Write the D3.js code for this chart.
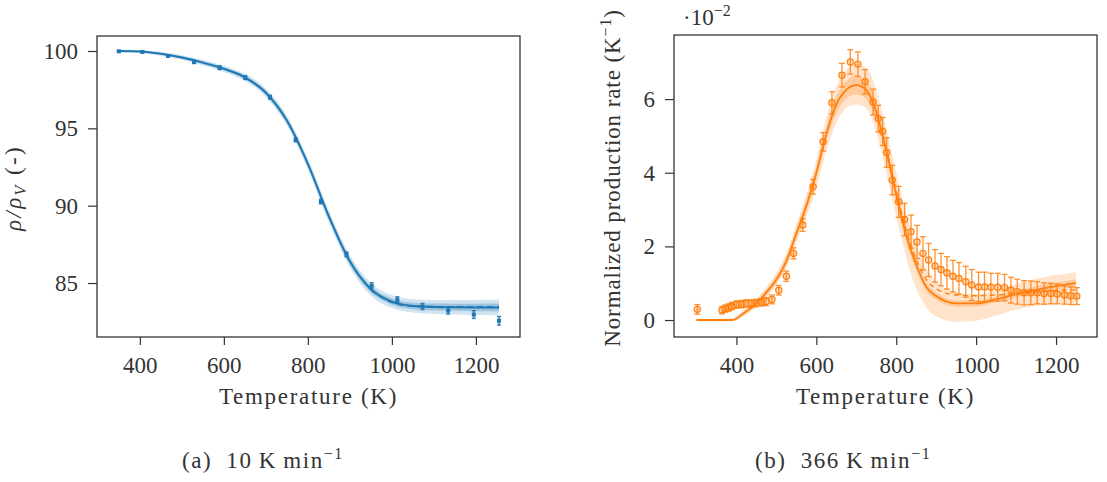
<!DOCTYPE html>
<html>
<head>
<meta charset="utf-8">
<script src="https://cdn.jsdelivr.net/npm/d3@7"></script>
<style>
  body { margin: 0; background: #fff; }
</style>
</head>
<body>
<script>
// ---- panel (a): density ratio at 10 K/min ----
const tempA = [350, 406, 467, 529, 590, 651, 710, 771, 831, 892, 952, 1013, 1073, 1134, 1195, 1255];
const rhoA  = [99.98, 99.94, 99.68, 99.29, 98.92, 98.28, 97.01, 94.25, 90.27, 86.85, 84.82, 83.91, 83.48, 83.22, 82.96, 82.56];
const errA  = [0.05, 0.05, 0.08, 0.1, 0.12, 0.12, 0.12, 0.12, 0.15, 0.15, 0.2, 0.2, 0.2, 0.22, 0.25, 0.28];

const fitTempA   = [350, 400, 450, 500, 550, 600, 650, 700, 750, 800, 850, 900, 950, 1000, 1050, 1100, 1150, 1200, 1255];
const fitRhoA    = [100.0, 99.97, 99.82, 99.58, 99.25, 98.85, 98.3, 97.3, 95.5, 92.7, 89.3, 86.4, 84.6, 83.8, 83.52, 83.45, 83.43, 83.42, 83.42];
const bandOuterA = [0.08, 0.1, 0.12, 0.15, 0.18, 0.2, 0.24, 0.28, 0.32, 0.36, 0.38, 0.4, 0.42, 0.42, 0.43, 0.45, 0.47, 0.49, 0.5];
const bandInnerA = [0.04, 0.05, 0.06, 0.08, 0.09, 0.1, 0.12, 0.14, 0.16, 0.18, 0.19, 0.2, 0.2, 0.2, 0.21, 0.22, 0.23, 0.24, 0.25];
const dashTempA  = [950, 1000, 1050, 1100, 1150, 1200, 1255];
const dashRhoA   = [84.55, 83.75, 83.5, 83.47, 83.46, 83.46, 83.46];

// ---- panel (b): production rate at 366 K/min (x 10^-2) ----
const tempB = [302, 364, 372, 381, 389, 400, 412, 424, 437, 449, 462, 474, 489, 506, 525, 543, 566, 592,
               617, 639, 664, 685, 704, 722, 742, 755, 766, 776, 790, 806, 821, 837, 852, 867, 881, 897,
               912, 927, 942, 957, 974, 989, 1006, 1021, 1037, 1054, 1071, 1087, 1103, 1120, 1137, 1153,
               1170, 1187, 1203, 1221, 1237, 1252];
const rateB = [0.29, 0.27, 0.31, 0.34, 0.38, 0.42, 0.43, 0.45, 0.45, 0.46, 0.48, 0.5, 0.56, 0.81, 1.19, 1.81, 2.58, 3.62,
               4.84, 5.9, 6.65, 7.01, 6.95, 6.47, 5.92, 5.47, 5.12, 4.55, 3.8, 3.21, 2.73, 2.4, 2.12, 1.81, 1.63, 1.47,
               1.37, 1.28, 1.19, 1.13, 1.04, 0.95, 0.9, 0.9, 0.89, 0.89, 0.88, 0.81, 0.77, 0.74, 0.74, 0.74,
               0.72, 0.72, 0.71, 0.68, 0.66, 0.65];
const errB  = [0.13, 0.1, 0.1, 0.1, 0.1, 0.1, 0.1, 0.1, 0.1, 0.1, 0.1, 0.11, 0.12, 0.13, 0.14, 0.15, 0.17, 0.2,
               0.25, 0.3, 0.32, 0.33, 0.33, 0.33, 0.35, 0.36, 0.38, 0.4, 0.4, 0.42, 0.44, 0.45, 0.45, 0.45, 0.45, 0.44,
               0.44, 0.44, 0.43, 0.43, 0.42, 0.42, 0.4, 0.4, 0.38, 0.38, 0.36, 0.35, 0.34, 0.33, 0.32, 0.3,
               0.29, 0.28, 0.27, 0.25, 0.24, 0.23];

const fitTempB   = [300, 350, 390, 420, 450, 475, 500, 525, 550, 575, 600, 625, 650, 675, 700, 725, 750, 775, 800,
                    825, 850, 875, 900, 950, 1000, 1050, 1100, 1150, 1200, 1250];
const fitRateB   = [0, 0, 0, 0.2, 0.45, 0.75, 1.1, 1.6, 2.35, 3.1, 4.0, 5.05, 5.85, 6.25, 6.38, 6.25, 5.65, 4.6, 3.4,
                    2.3, 1.5, 0.9, 0.65, 0.45, 0.45, 0.56, 0.7, 0.82, 0.92, 1.0];
const bandLoB    = [-0.03, -0.03, -0.03, 0.12, 0.35, 0.62, 0.95, 1.42, 2.1, 2.8, 3.6, 4.6, 5.35, 5.75, 5.85, 5.75, 5.1, 4.0, 2.8,
                    1.7, 0.85, 0.35, 0.1, -0.05, -0.02, 0.12, 0.28, 0.38, 0.42, 0.45];
const bandHiB    = [0.03, 0.03, 0.05, 0.3, 0.58, 0.9, 1.28, 1.82, 2.6, 3.4, 4.35, 5.5, 6.35, 6.8, 6.95, 6.85, 6.25, 5.2, 4.0,
                    2.9, 2.05, 1.4, 1.05, 0.75, 0.7, 0.8, 0.98, 1.12, 1.22, 1.3];
const bandInnerB = [0.01, 0.01, 0.02, 0.05, 0.07, 0.08, 0.1, 0.12, 0.14, 0.16, 0.18, 0.2, 0.22, 0.24, 0.25, 0.25, 0.24, 0.22, 0.2,
                    0.18, 0.15, 0.12, 0.1, 0.08, 0.08, 0.08, 0.09, 0.1, 0.1, 0.1];
const dashTempB  = [780, 800, 825, 850, 875, 900, 950, 1000, 1050, 1100, 1150, 1200, 1250];
const dashRateB  = [4.45, 3.5, 2.45, 1.65, 1.1, 0.85, 0.68, 0.66, 0.68, 0.72, 0.76, 0.8, 0.82];

const xTicks  = [400, 600, 800, 1000, 1200];
const yTicksA = [85, 90, 95, 100];
const yTicksB = [0, 2, 4, 6];

const blue = "#1f77b4", orange = "#ff7f0e", ink = "#333";
const FS = 23;
const FONT = "'Liberation Serif', 'Times New Roman', 'DejaVu Serif', serif";

const svg = d3.select("body").append("svg")
  .attr("width", 1107).attr("height", 482)
  .attr("font-family", FONT);

function label(sel) {
  return sel.append("text").attr("font-family", FONT).attr("font-size", FS).attr("fill", ink);
}

function panel(box, xDom, yDom, yTicks) {
  const x = d3.scaleLinear().domain(xDom).range([box.left, box.right]);
  const y = d3.scaleLinear().domain(yDom).range([box.bottom, box.top]);
  const g = svg.append("g");

  const xa = g.append("g")
    .attr("transform", `translate(0,${box.bottom})`)
    .call(d3.axisBottom(x).tickValues(xTicks).tickFormat(d3.format("d")).tickSize(8).tickSizeOuter(0));
  const ya = g.append("g")
    .attr("transform", `translate(${box.left},0)`)
    .call(d3.axisLeft(y).tickValues(yTicks).tickFormat(d3.format("d")).tickSize(9).tickSizeOuter(0).tickPadding(10));

  [xa, ya].forEach(a => {
    a.select(".domain").remove();
    a.attr("font-family", FONT).attr("font-size", FS);
    a.selectAll("line").attr("stroke", ink).attr("stroke-width", 1.2);
    a.selectAll("text").attr("fill", ink).attr("font-family", FONT);
  });
  xa.selectAll("text").attr("y", 36).attr("dy", null);

  const plot = g.append("g");
  g.append("rect")
    .attr("x", box.left).attr("y", box.top)
    .attr("width", box.right - box.left).attr("height", box.bottom - box.top)
    .attr("fill", "none").attr("stroke", ink).attr("stroke-width", 1.3);

  label(g)
    .attr("x", (box.left + box.right) / 2).attr("y", 404)
    .attr("text-anchor", "middle")
    .style("letter-spacing", "1.7px")
    .text("Temperature (K)");

  return { x, y, plot };
}

function errorBars(p, temps, vals, errs, color, cap, width, opacity) {
  const eb = p.plot.append("g").attr("stroke", color).attr("stroke-width", width).attr("stroke-opacity", opacity);
  temps.forEach((t, i) => {
    const cx = p.x(t), lo = p.y(vals[i] - errs[i]), hi = p.y(vals[i] + errs[i]);
    eb.append("line").attr("x1", cx).attr("x2", cx).attr("y1", lo).attr("y2", hi);
    eb.append("line").attr("x1", cx - cap).attr("x2", cx + cap).attr("y1", lo).attr("y2", lo);
    eb.append("line").attr("x1", cx - cap).attr("x2", cx + cap).attr("y1", hi).attr("y2", hi);
  });
}

// ---------- panel (a) ----------
const pa = panel({ left: 97, right: 520, top: 36, bottom: 337 }, [298, 1305], [81.51, 100.97], yTicksA);

const lineA = d3.line().x(d => pa.x(d[0])).y(d => pa.y(d[1])).curve(d3.curveMonotoneX);
const bandA = (hw) => d3.area()
  .x((d, i) => pa.x(fitTempA[i]))
  .y0((d, i) => pa.y(fitRhoA[i] - hw[i]))
  .y1((d, i) => pa.y(fitRhoA[i] + hw[i]))
  .curve(d3.curveMonotoneX);

pa.plot.append("path").datum(fitTempA).attr("d", bandA(bandOuterA)).attr("fill", blue).attr("fill-opacity", 0.2);
pa.plot.append("path").datum(fitTempA).attr("d", bandA(bandInnerA)).attr("fill", blue).attr("fill-opacity", 0.3);
pa.plot.append("path").datum(d3.zip(fitTempA, fitRhoA)).attr("d", lineA)
  .attr("fill", "none").attr("stroke", blue).attr("stroke-width", 2);
pa.plot.append("path").datum(d3.zip(dashTempA, dashRhoA)).attr("d", lineA)
  .attr("fill", "none").attr("stroke", blue).attr("stroke-width", 1.6).attr("stroke-dasharray", "6,4");
errorBars(pa, tempA, rhoA, errA, blue, 2, 1.4, 0.9);
pa.plot.append("g").selectAll("rect").data(d3.zip(tempA, rhoA)).join("rect")
  .attr("x", d => pa.x(d[0]) - 2).attr("y", d => pa.y(d[1]) - 2)
  .attr("width", 4).attr("height", 4).attr("fill", blue);

label(svg)
  .attr("transform", "translate(21,188) rotate(-90)")
  .attr("text-anchor", "middle")
  .style("letter-spacing", "2.4px")
  .call(t => {
    t.append("tspan").attr("font-style", "italic").text("ρ/ρ");
    t.append("tspan").attr("font-style", "italic").attr("font-size", 16).attr("dy", 5).text("V");
    t.append("tspan").attr("dy", -5).text(" (-)");
  });

// ---------- panel (b) ----------
const pb = panel({ left: 674, right: 1097, top: 35, bottom: 337 }, [243.75, 1302.5], [-0.461, 7.74], yTicksB);

const lineB = d3.line().x(d => pb.x(d[0])).y(d => pb.y(d[1])).curve(d3.curveMonotoneX);
pb.plot.append("path").datum(fitTempB)
  .attr("d", d3.area()
    .x((d, i) => pb.x(fitTempB[i]))
    .y0((d, i) => pb.y(bandLoB[i]))
    .y1((d, i) => pb.y(bandHiB[i]))
    .curve(d3.curveMonotoneX))
  .attr("fill", orange).attr("fill-opacity", 0.22);
pb.plot.append("path").datum(fitTempB)
  .attr("d", d3.area()
    .x((d, i) => pb.x(fitTempB[i]))
    .y0((d, i) => pb.y(fitRateB[i] - bandInnerB[i]))
    .y1((d, i) => pb.y(fitRateB[i] + bandInnerB[i]))
    .curve(d3.curveMonotoneX))
  .attr("fill", orange).attr("fill-opacity", 0.25);
pb.plot.append("path").datum(d3.zip(fitTempB, fitRateB)).attr("d", lineB)
  .attr("fill", "none").attr("stroke", orange).attr("stroke-width", 1.8);
pb.plot.append("path").datum(d3.zip(dashTempB, dashRateB)).attr("d", lineB)
  .attr("fill", "none").attr("stroke", orange).attr("stroke-width", 1.4).attr("stroke-dasharray", "5,4");
errorBars(pb, tempB, rateB, errB, orange, 3, 1.3, 0.85);
pb.plot.append("g").selectAll("circle").data(d3.zip(tempB, rateB)).join("circle")
  .attr("cx", d => pb.x(d[0])).attr("cy", d => pb.y(d[1])).attr("r", 3.1)
  .attr("fill", orange).attr("fill-opacity", 0.3)
  .attr("stroke", orange).attr("stroke-width", 1.2);

label(svg)
  .attr("transform", "translate(620,178) rotate(-90)")
  .attr("text-anchor", "middle")
  .style("letter-spacing", "0.9px")
  .call(t => {
    t.append("tspan").text("Normalized production rate (K");
    t.append("tspan").attr("font-size", 16).attr("dy", -9).text("−1");
    t.append("tspan").attr("dy", 9).text(")");
  });

label(svg).attr("x", 683).attr("y", 25)
  .call(t => {
    t.append("tspan").text("·10");
    t.append("tspan").attr("font-size", 16).attr("dy", -9).text("−2");
  });

// ---------- captions ----------
function caption(x, tag, rate) {
  const t = label(svg).attr("x", x).attr("y", 468).style("letter-spacing", "1.6px");
  t.append("tspan").text(tag);
  t.append("tspan").attr("dx", 14).text(rate + "\u2009K\u2009min");
  t.append("tspan").attr("font-size", 16).attr("dy", -9).text("−1");
}
caption(182, "(a)", "10");
caption(755, "(b)", "366");
</script>
</body>
</html>
